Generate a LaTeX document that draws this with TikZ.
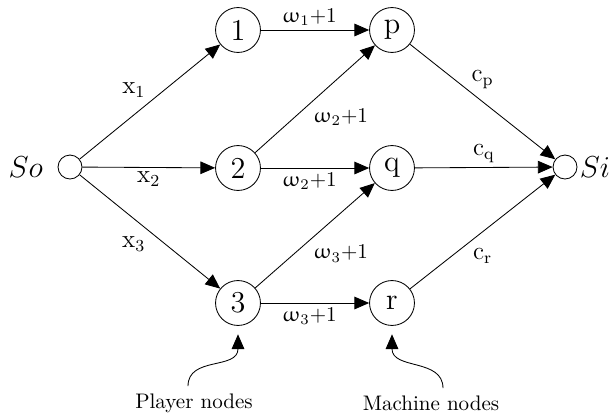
\documentclass[tikz,border=0pt]{standalone}
\usepackage{amsmath}
\usepackage{upgreek}
\usetikzlibrary{arrows.meta,positioning}
\tikzset{
  job/.style={circle,draw,minimum size=0.75cm,inner sep=0pt,font=\Large},
  term/.style={circle,draw,minimum size=0.4cm,inner sep=0pt},
  wt/.style={inner sep=2pt},
}

\begin{document}
\begin{tikzpicture}[x=0.0167cm,y=-0.0167cm,>={Triangle[length=7pt,width=6pt]}]
\useasboundingbox (0,0) rectangle (613,414);
% source and sink
\node[term] (so) at (70,167) {};
\node[term] (si) at (565,167) {};
\node[left=0.12cm of so] {\Large $So$};
\node[right=0pt of si,inner sep=1pt] {\Large $Si$};
% player nodes
\node[job] (n1) at (238,30) {1};
\node[job] (n2) at (238,168) {2};
\node[job] (n3) at (238,303) {3};
% machine nodes
\node[job] (mp) at (392,30) {p};
\node[job] (mq) at (392,168) {q};
\node[job] (mr) at (392,303) {r};

\draw[->] (so) -- node[wt,above left,font=\large]{$\mathrm{x}_1$} (n1);
\draw[->] (so) -- node[wt,below,font=\large]{$\mathrm{x}_2$} (n2);
\draw[->] (so) -- node[wt,below left,font=\large]{$\mathrm{x}_3$} (n3);
\draw[->] (n1) -- node[wt,above,pos=0.45]{$\upomega_1{+}1$} (mp);
\draw[->] (n2) -- node[wt,below right,pos=0.45]{$\upomega_2{+}1$} (mp);
\draw[->] (n2) -- node[wt,below,pos=0.45]{$\upomega_2{+}1$} (mq);
\draw[->] (n3) -- node[wt,below right,pos=0.45]{$\upomega_3{+}1$} (mq);
\draw[->] (n3) -- node[wt,below,pos=0.45]{$\upomega_3{+}1$} (mr);
\draw[->] (mp) -- node[wt,above=4pt,font=\large]{$\mathrm{c}_\mathrm{p}$} (si);
\draw[->] (mq) -- node[wt,above,font=\large]{$\mathrm{c}_\mathrm{q}$} (si);
\draw[->] (mr) -- node[wt,below=6pt,font=\large]{$\mathrm{c}_\mathrm{r}$} (si);

% annotations
\node (player) at (194,403) {Player nodes};
\node (machine) at (431,403) {Machine nodes};
\draw[->,shorten >=4pt] ([xshift=-0.1cm]player.north) .. controls +(0,-30) and (238,370) .. (n3.south);
\draw[->,shorten >=4pt] ([xshift=0.2cm]machine.north) .. controls +(0,-30) and (392,370) .. (mr.south);
\end{tikzpicture}
\end{document}
